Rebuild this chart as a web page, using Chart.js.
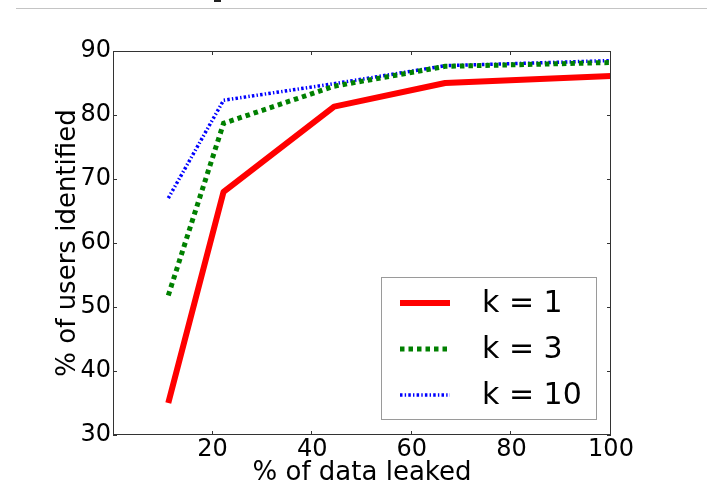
<!DOCTYPE html>
<html lang="en">
  <head>
    <meta charset="UTF-8" />
    <title>Users identified vs data leaked</title>
    <script src="https://cdn.jsdelivr.net/npm/chart.js"></script>
    <style>
      body {
        margin: 0;
        background-color: #fff;
        font-family: "DejaVu Sans", sans-serif;
      }
      .wrap {
        position: relative;
        width: 707px;
        height: 503px;
      }
      .topline {
        position: absolute;
        left: 16px;
        right: 0;
        top: 8px;
        height: 1px;
        background-color: #c4c4c4;
      }
      .topmark {
        position: absolute;
        left: 214px;
        top: 0;
        width: 7px;
        height: 2px;
        background-color: #222;
      }
      canvas {
        position: absolute;
        left: 0;
        top: 0;
      }
    </style>
  </head>

  <body>
    <div class="wrap">
      <canvas id="leakChart" width="707" height="503"></canvas>
      <div class="topline"></div>
      <div class="topmark"></div>
    </div>

    <script>
      // values
      const leakedPct = [11.1, 22.2, 44.4, 66.7, 100];
      const k1 = [35.0, 68.0, 81.3, 85.0, 86.1];
      const k3 = [51.8, 78.7, 84.5, 87.6, 88.2];
      const k10 = [67.0, 82.3, 84.9, 87.7, 88.5];
      const seriesLabels = ["k = 1", "k = 3", "k = 10"];
      const xTickValues = [20, 40, 60, 80, 100];
      const yTickValues = [30, 40, 50, 60, 70, 80, 90];

      const FONT = "DejaVu Sans";

      function toPoints(values) {
        return values.map((v, i) => ({ x: leakedPct[i], y: v }));
      }

      // matplotlib style box with inward ticks on all four sides
      const frameAndTicks = {
        id: "frameAndTicks",
        afterDatasetsDraw(chart) {
          const { ctx, chartArea: a, scales } = chart;
          ctx.save();
          ctx.strokeStyle = "#333";
          ctx.lineWidth = 1;
          ctx.setLineDash([]);
          ctx.strokeRect(
            a.left + 0.5,
            a.top + 0.5,
            a.right - a.left - 1,
            a.bottom - a.top - 1
          );
          ctx.beginPath();
          xTickValues.forEach((v) => {
            const px = Math.round(scales.x.getPixelForValue(v)) - 0.5;
            ctx.moveTo(px, a.bottom);
            ctx.lineTo(px, a.bottom - 4);
            ctx.moveTo(px, a.top);
            ctx.lineTo(px, a.top + 4);
          });
          yTickValues.forEach((v) => {
            const py = Math.round(scales.y.getPixelForValue(v)) + 0.5;
            ctx.moveTo(a.left, py);
            ctx.lineTo(a.left + 4, py);
            ctx.moveTo(a.right, py);
            ctx.lineTo(a.right - 4, py);
          });
          ctx.stroke();
          ctx.restore();
        },
      };

      // legend box sitting inside the plot, lower right
      const insideLegend = {
        id: "insideLegend",
        afterDraw(chart) {
          const { ctx, chartArea: a } = chart;
          const w = 215;
          const h = 142;
          const left = a.right - 15 - w;
          const top = a.bottom - 16 - h;
          ctx.save();
          ctx.fillStyle = "#fff";
          ctx.fillRect(left, top, w, h);
          ctx.strokeStyle = "#9a9a9a";
          ctx.lineWidth = 1;
          ctx.strokeRect(left + 0.5, top + 0.5, w, h);

          chart.data.datasets.forEach((ds, i) => {
            const y = top + 26 + i * 46;
            ctx.beginPath();
            ctx.strokeStyle = ds.borderColor;
            ctx.lineWidth = ds.borderWidth;
            ctx.lineCap = "butt";
            ctx.setLineDash(ds.borderDash || []);
            ctx.moveTo(left + 19, y);
            ctx.lineTo(left + 69, y);
            ctx.stroke();
            ctx.setLineDash([]);
            ctx.fillStyle = "#000";
            ctx.font = "30px '" + FONT + "'";
            ctx.textBaseline = "middle";
            ctx.textAlign = "left";
            ctx.fillText(ds.label, left + 101, y + 1);
          });
          ctx.restore();
        },
      };

      const ctx = document.getElementById("leakChart").getContext("2d");
      new Chart(ctx, {
        type: "line",
        data: {
          datasets: [
            {
              label: seriesLabels[0],
              data: toPoints(k1),
              borderColor: "#ff0000",
              borderWidth: 6,
              borderJoinStyle: "round",
            },
            {
              label: seriesLabels[1],
              data: toPoints(k3),
              borderColor: "#008000",
              borderWidth: 5,
              borderDash: [4.5, 4],
            },
            {
              label: seriesLabels[2],
              data: toPoints(k10),
              borderColor: "#0000ff",
              borderWidth: 3.5,
              borderDash: [2.5, 2.2, 1.4, 2.2],
            },
          ],
        },
        options: {
          responsive: false,
          animation: false,
          devicePixelRatio: 1,
          layout: { padding: { left: 0, right: 96, top: 51, bottom: 0 } },
          elements: {
            point: { radius: 0, hoverRadius: 0 },
            line: { tension: 0, borderCapStyle: "butt", fill: false },
          },
          datasets: { line: { clip: 0 } },
          plugins: {
            legend: { display: false },
            tooltip: { enabled: false },
          },
          scales: {
            x: {
              type: "linear",
              min: 0,
              max: 100,
              grid: { display: false, drawTicks: false },
              border: { display: false },
              afterBuildTicks: (s) => {
                s.ticks = [0].concat(xTickValues).map((v) => ({ value: v }));
              },
              ticks: {
                autoSkip: false,
                maxRotation: 0,
                padding: 0,
                color: "#000",
                font: { family: FONT, size: 24 },
                callback: (v) => (xTickValues.includes(v) ? String(v) : ""),
              },
              title: {
                display: true,
                text: "% of data leaked",
                color: "#000",
                font: { family: FONT, size: 26 },
                padding: { top: 0, bottom: 14 },
              },
              afterFit: (s) => {
                s.height = 68;
              },
            },
            y: {
              type: "linear",
              min: 30,
              max: 90,
              grid: { display: false, drawTicks: false },
              border: { display: false },
              afterBuildTicks: (s) => {
                s.ticks = yTickValues.map((v) => ({ value: v }));
              },
              ticks: {
                padding: 2,
                color: "#000",
                font: { family: FONT, size: 24 },
              },
              title: {
                display: true,
                text: "% of users identified",
                color: "#000",
                font: { family: FONT, size: 26 },
                padding: { top: 53, bottom: 0 },
              },
              afterFit: (s) => {
                s.width = 113;
              },
            },
          },
        },
        plugins: [frameAndTicks, insideLegend],
      });
    </script>
  </body>
</html>
